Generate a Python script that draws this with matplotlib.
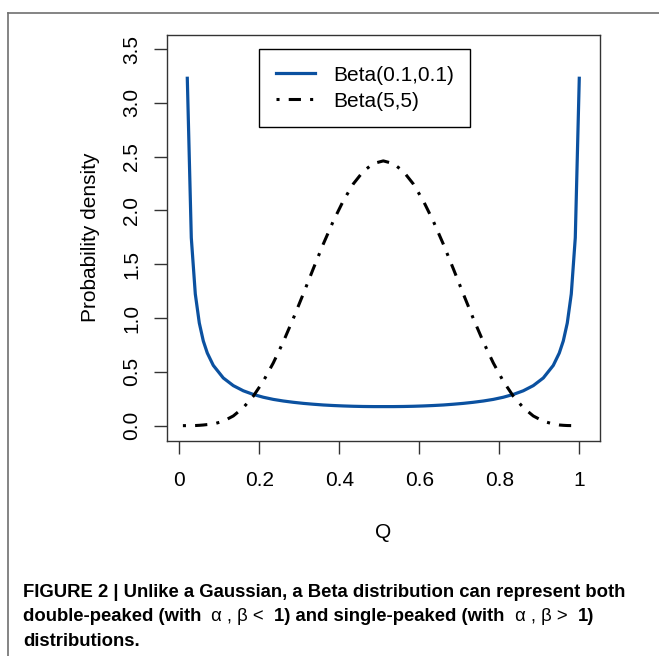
import matplotlib
matplotlib.use('Agg')
import matplotlib.pyplot as plt
from matplotlib.lines import Line2D

# values
q_blue = [0.02, 0.03, 0.04, 0.05, 0.06, 0.07, 0.085, 0.11, 0.135, 0.16, 0.185, 0.21,
          0.235, 0.26, 0.285, 0.31, 0.335, 0.36, 0.385, 0.41, 0.435, 0.46, 0.485, 0.51,
          0.535, 0.56, 0.585, 0.61, 0.635, 0.66, 0.685, 0.71, 0.735, 0.76, 0.785, 0.81,
          0.835, 0.86, 0.885, 0.91, 0.935, 0.95, 0.96, 0.97, 0.98, 0.99, 1.0]
beta_01 = [3.229, 1.746, 1.224, 0.954, 0.787, 0.675, 0.560, 0.443, 0.372, 0.324, 0.290, 0.264,
           0.244, 0.229, 0.217, 0.207, 0.199, 0.192, 0.187, 0.183, 0.180, 0.178, 0.177, 0.177,
           0.177, 0.178, 0.180, 0.183, 0.187, 0.192, 0.199, 0.207, 0.217, 0.229, 0.244, 0.264,
           0.290, 0.324, 0.372, 0.443, 0.560, 0.675, 0.787, 0.954, 1.224, 1.746, 3.229]

q_black = [0.009, 0.03, 0.04, 0.05, 0.06, 0.07, 0.085, 0.11, 0.135, 0.16, 0.185, 0.21,
           0.235, 0.26, 0.285, 0.31, 0.335, 0.36, 0.385, 0.41, 0.435, 0.46, 0.485, 0.51,
           0.535, 0.56, 0.585, 0.61, 0.635, 0.66, 0.685, 0.71, 0.735, 0.76, 0.785, 0.81,
           0.835, 0.86, 0.885, 0.91, 0.935, 0.95, 0.96, 0.97, 0.985]
beta_55 = [0.000, 0.000, 0.001, 0.003, 0.006, 0.010, 0.015, 0.041, 0.090, 0.167, 0.274, 0.413,
           0.583, 0.779, 0.996, 1.225, 1.459, 1.688, 1.901, 2.090, 2.247, 2.364, 2.436, 2.461,
           2.436, 2.364, 2.247, 2.090, 1.901, 1.688, 1.459, 1.225, 0.996, 0.779, 0.583, 0.413,
           0.274, 0.167, 0.090, 0.041, 0.015, 0.006, 0.003, 0.001, 0.000]

xticks = [0, 0.2, 0.4, 0.6, 0.8, 1]
xtick_labels = ['0', '0.2', '0.4', '0.6', '0.8', '1']
yticks = [0, 0.5, 1.0, 1.5, 2.0, 2.5, 3.0, 3.5]
ytick_labels = ['0.0', '0.5', '1.0', '1.5', '2.0', '2.5', '3.0', '3.5']

# caption lines, split into (text, weight) runs
caption = [
    [('FIGURE 2 | Unlike a Gaussian, a Beta distribution can represent both', 'bold')],
    [('double-peaked (with ', 'bold'), (' \u03b1 , \u03b2 <  ', 'normal'),
     ('1) and single-peaked (with ', 'bold'), (' \u03b1 , \u03b2 >  ', 'normal'), ('1)', 'bold')],
    [('distributions.', 'bold')],
]

plt.rcParams['font.family'] = ['Liberation Sans', 'DejaVu Sans']

W, H = 659, 656
fig = plt.figure(figsize=(W / 100, H / 100), dpi=100)

# outer frame (top and left edges only)
fig.add_artist(Line2D([8.3 / W, 1], [1 - 13.3 / H, 1 - 13.3 / H], color='#707070', lw=1.2))
fig.add_artist(Line2D([8.3 / W, 8.3 / W], [0, 1 - 13.3 / H], color='#707070', lw=1.2))

ax = fig.add_axes([166.7 / W, 1 - 440.7 / H, 433.3 / W, 406.0 / H])
ax.plot(q_blue, beta_01, color='#0b51a0', lw=2.3, label='Beta(0.1,0.1)')
ax.plot(q_black, beta_55, color='black', lw=2.2, dashes=(1, 3, 4, 3), label='Beta(5,5)')

ax.set_xlim(-0.0315, 1.0518)
ax.set_ylim(-0.14, 3.634)
ax.set_xticks(xticks)
ax.set_xticklabels(xtick_labels)
ax.set_yticks(yticks)
ax.set_yticklabels(ytick_labels, rotation=90, va='center')
ax.tick_params(length=9.5, width=1.0, color='#333333', labelsize=15)
ax.tick_params(axis='x', pad=12)
ax.tick_params(axis='y', pad=9)
for s in ax.spines.values():
    s.set_color('#333333')
    s.set_linewidth(1.0)

ax.set_xlabel('Q', fontsize=15, labelpad=24)
ax.set_ylabel('Probability density', fontsize=15, labelpad=16)

leg = ax.legend(loc='upper left', bbox_to_anchor=(0.213, 0.965), fontsize=15,
                frameon=True, fancybox=False, framealpha=1, edgecolor='black',
                handlelength=1.9, handletextpad=0.85, borderpad=0.8, labelspacing=0.34,
                borderaxespad=0)
leg.get_frame().set_linewidth(1.0)

# caption, run by run
fig.canvas.draw()
renderer = fig.canvas.get_renderer()
for i, runs in enumerate(caption):
    x = 23.0
    y = 1 - (596.7 + 24.7 * i) / H
    for txt, weight in runs:
        t = fig.text(x / W, y, txt, fontsize=13.3, fontweight=weight,
                     va='baseline', ha='left')
        x += t.get_window_extent(renderer).width

fig.savefig('out.png', dpi=100)
